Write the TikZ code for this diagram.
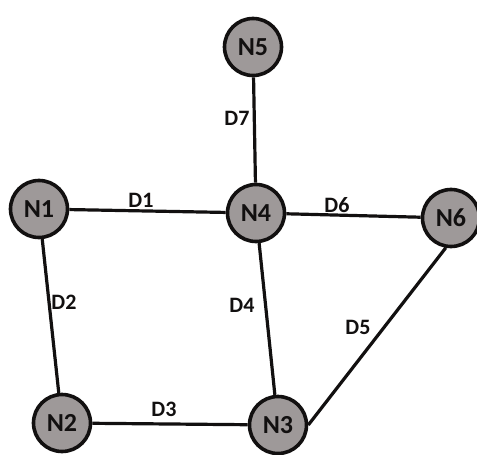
\documentclass[tikz,border=0pt]{standalone}
\usepackage{fontspec}
\setmainfont{Carlito}
\usetikzlibrary{positioning}

\definecolor{nodegray}{RGB}{158,153,153}
\definecolor{inkblack}{RGB}{18,16,16}

\begin{document}
\begin{tikzpicture}[x=1pt, y=-1pt,
		netnode/.style = {circle, draw=inkblack, line width=3.6pt, fill=nodegray, minimum size=57pt, inner sep=0pt, text=inkblack, font=\fontsize{26}{31}\selectfont\bfseries},
		linklabel/.style = {text=inkblack, inner sep=0pt, font=\fontsize{22}{26}\selectfont\bfseries},
		link/.style = {draw=inkblack, line width=3.2pt}]
			\useasboundingbox (0, 0) rectangle (477, 455);
			% stations
			\node[netnode] (n5) at (253, 47) {N5};
			\node[netnode] (n1) at (39, 209) {N1};
			\node[netnode] (n4) at (256, 213) {N4};
			\node[netnode] (n6) at (451, 218) {N6};
			\node[netnode] (n2) at (62, 423) {N2};
			\node[netnode] (n3) at (278, 425) {N3};
			% links
			\draw[link] (n1)--(n4);
			\draw[link] (n4)--(n6);
			\draw[link] (n5)--(n4);
			\draw[link] (n1)--(n2);
			\draw[link] (n4)--(n3);
			\draw[link] (n2)--(n3);
			\draw[link] (n3.east)--(n6.-100);
			% link names
			\node[linklabel] (d1) at (141, 200) {D1};
			\node[linklabel] (d2) at (64, 302) {D2};
			\node[linklabel] (d3) at (164, 409) {D3};
			\node[linklabel] (d4) at (242, 305) {D4};
			\node[linklabel] (d5) at (358, 327) {D5};
			\node[linklabel] (d6) at (337, 205) {D6};
			\node[linklabel] (d7) at (237, 118) {D7};
		\end{tikzpicture}
\end{document}
